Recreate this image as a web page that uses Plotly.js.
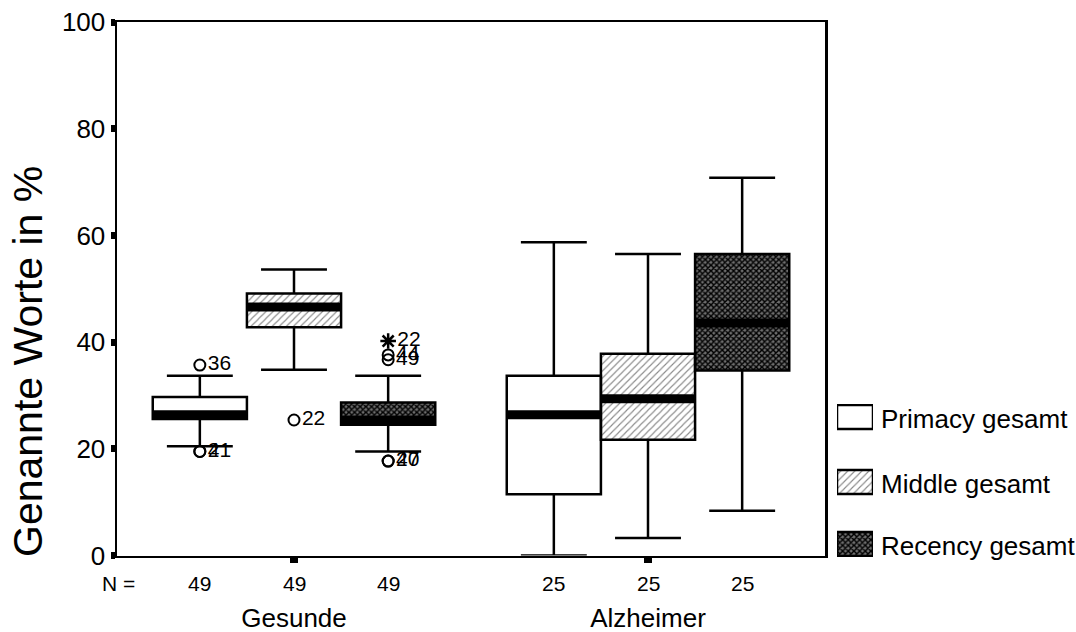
<!DOCTYPE html>
<html>
<head>
<meta charset="utf-8">
<script src="https://cdn.plot.ly/plotly-3.0.1.min.js"></script>
<style>html,body{margin:0;padding:0;background:#fff;}#chart{width:1076px;height:632px;}</style>
</head>
<body>
<div id="chart"></div>
<script>
// ---- data ----
const groups = ['Gesunde', 'Alzheimer'];
const seriesNames = ['Primacy gesamt', 'Middle gesamt', 'Recency gesamt'];
// box order: Gesunde-Primacy, Gesunde-Middle, Gesunde-Recency, Alzheimer-Primacy, Alzheimer-Middle, Alzheimer-Recency
const boxGroup  = [0, 0, 0, 1, 1, 1];
const boxSeries = [0, 1, 2, 0, 1, 2];
const lowerFence = [20.5, 34.8, 19.5, 0.0, 3.3, 8.4];
const q1         = [25.6, 42.8, 24.5, 11.5, 21.7, 34.7];
const median     = [26.4, 46.6, 25.4, 26.4, 29.4, 43.6];
const q3         = [29.7, 49.1, 28.7, 33.7, 37.8, 56.5];
const upperFence = [33.7, 53.6, 33.7, 58.7, 56.5, 70.8];
const nCases     = [49, 49, 49, 25, 25, 25];
// outliers / extremes (SPSS case numbers)
const outlierBox     = [0, 0, 0, 1, 2, 2, 2, 2, 2];
const outlierValue   = [35.7, 19.5, 19.5, 25.4, 40.2, 37.6, 36.7, 17.7, 17.7];
const outlierCase    = ['36', '4', '21', '22', '22', '44', '49', '27', '40'];
const outlierExtreme = [false, false, false, false, true, false, false, false, false];
const yTitle = 'Genannte Worte in %';

// ---- layout helpers (page pixels) ----
const W = 1076, H = 632;
const plotL = 117, plotR = 825, plotT = 22, plotB = 555.5;
const FONT = 'Arial, "Liberation Sans", sans-serif';
const boxW = 0.266;
function boxPos(i) { return boxGroup[i] + (boxSeries[i] - 1) * boxW; }
function px(x) { return x / W; }
function py(y) { return 1 - y / H; }

const patterns = [
  {shape: '', bgcolor: '#ffffff'},
  {shape: '/', fgcolor: '#8a8a8a', bgcolor: '#ffffff', size: 5, solidity: 0.22},
  {shape: 'x', fgcolor: '#000000', bgcolor: '#6e6e6e', size: 4, solidity: 0.6}
];

const traces = [];
// patterned box bodies (bars from q1 to q3)
seriesNames.forEach((name, s) => {
  const idx = boxSeries.map((v, i) => v === s ? i : -1).filter(i => i >= 0);
  traces.push({
    type: 'bar', name: name, showlegend: false,
    x: idx.map(boxPos), base: idx.map(i => q1[i]), y: idx.map(i => q3[i] - q1[i]),
    width: boxW,
    marker: {color: '#ffffff', pattern: patterns[s], line: {width: 0}},
    hoverinfo: 'skip'
  });
});
// box outlines + whiskers
seriesNames.forEach((name, s) => {
  const idx = boxSeries.map((v, i) => v === s ? i : -1).filter(i => i >= 0);
  traces.push({
    type: 'box', name: name, showlegend: false,
    x: idx.map(boxPos),
    q1: idx.map(i => q1[i]), median: idx.map(i => median[i]), q3: idx.map(i => q3[i]),
    lowerfence: idx.map(i => lowerFence[i]), upperfence: idx.map(i => upperFence[i]),
    width: boxW, whiskerwidth: 0.7, boxpoints: false,
    fillcolor: 'rgba(0,0,0,0)', line: {color: '#000', width: 2.5}
  });
});
// thick medians
const mx = [], my = [];
median.forEach((m, i) => { mx.push(boxPos(i) - boxW / 2, boxPos(i) + boxW / 2, null); my.push(m, m, null); });
traces.push({type: 'scatter', mode: 'lines', x: mx, y: my, line: {color: '#000', width: 9}, showlegend: false, hoverinfo: 'skip'});
// outliers
[false, true].forEach(ext => {
  const idx = outlierExtreme.map((e, k) => e === ext ? k : -1).filter(k => k >= 0);
  traces.push({
    type: 'scatter', mode: 'markers+text', showlegend: false, cliponaxis: false,
    x: idx.map(k => boxPos(outlierBox[k])), y: idx.map(k => outlierValue[k]),
    text: idx.map(k => outlierCase[k]), textposition: 'middle right',
    textfont: {family: FONT, size: 21, color: '#000'},
    marker: ext ? {symbol: 'asterisk-open', size: 13, color: '#000', line: {width: 2.5, color: '#000'}}
                : {symbol: 'circle-open', size: 11, color: '#000', line: {width: 2, color: '#000'}}
  });
});
// legend swatches (own small subplot in page-pixel units so patterns can be shown)
const legendTop = [405, 470, 532];
const legendH = 24;
seriesNames.forEach((name, s) => {
  traces.push({
    type: 'bar', xaxis: 'x2', yaxis: 'y2', showlegend: false, hoverinfo: 'skip',
    x: [0.5], base: [legendTop[s]], y: [legendH], width: 1,
    marker: {color: '#fff', pattern: patterns[s], line: {width: 2.5, color: '#000'}}
  });
});

const annotations = [];
nCases.forEach((n, i) => annotations.push({
  xref: 'x', yref: 'paper', x: boxPos(i), y: py(583), yanchor: 'middle',
  text: String(n), showarrow: false, font: {family: FONT, size: 21, color: '#000'}
}));
annotations.push({xref: 'paper', yref: 'paper', x: px(118), y: py(583), yanchor: 'middle', xanchor: 'center',
  text: 'N =', showarrow: false, font: {family: FONT, size: 21, color: '#000'}});
seriesNames.forEach((name, s) => annotations.push({
  xref: 'paper', yref: 'paper', x: px(879), xanchor: 'left', y: py(legendTop[s] + legendH / 2 + 2), yanchor: 'middle',
  text: name, showarrow: false, font: {family: FONT, size: 26, color: '#000'}
}));
annotations.push({xref: 'paper', yref: 'paper', x: px(28), y: py(362), xanchor: 'center', yanchor: 'middle',
  textangle: -90, text: yTitle, showarrow: false, font: {family: FONT, size: 41, color: '#000'}});

const layout = {
  width: W, height: H,
  margin: {l: 0, r: 0, t: 0, b: 0},
  paper_bgcolor: '#fff', plot_bgcolor: '#fff',
  font: {family: FONT, color: '#000'},
  barmode: 'overlay', boxmode: 'overlay', showlegend: false,
  xaxis: {
    domain: [px(plotL), px(plotR)],
    range: [-0.5, 1.5], tickvals: [0, 1], ticktext: groups,
    ticks: 'outside', ticklen: 5, tickwidth: 8, tickcolor: '#000',
    showline: true, linewidth: 2.5, linecolor: '#000', mirror: true,
    showgrid: false, zeroline: false, ticklabelstandoff: 33,
    tickfont: {family: FONT, size: 26, color: '#000'}
  },
  yaxis: {
    domain: [py(plotB), py(plotT)],
    range: [0, 100], tickvals: [0, 20, 40, 60, 80, 100],
    ticks: 'outside', ticklen: 4, tickwidth: 7, tickcolor: '#000',
    showline: true, linewidth: 2.5, linecolor: '#000', mirror: true,
    showgrid: false, zeroline: false,
    tickfont: {family: FONT, size: 26, color: '#000'}
  },
  xaxis2: {domain: [px(837), px(873)], range: [0, 1], visible: false, fixedrange: true, anchor: 'y2'},
  yaxis2: {domain: [py(legendTop[2] + legendH + 1), py(legendTop[0] - 1)],
           range: [legendTop[2] + legendH + 1, legendTop[0] - 1], visible: false, fixedrange: true, anchor: 'x2'},
  annotations: annotations
};

Plotly.newPlot('chart', traces, layout, {staticPlot: true});
</script>
</body>
</html>
